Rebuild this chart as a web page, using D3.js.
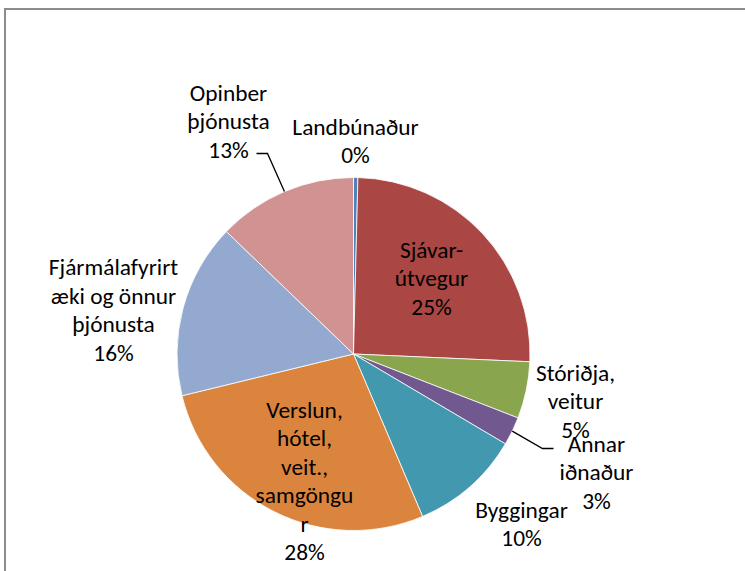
<!DOCTYPE html>
<html>
<head>
<meta charset="utf-8">
<script src="https://cdn.jsdelivr.net/npm/d3@7"></script>
<style>
body { margin: 0; background: #fff; }
text { font-family: Carlito, Lato, "Liberation Sans", sans-serif; font-size: 23.4px; fill: #000; }
</style>
</head>
<body>
<div id="chart"></div>
<script>
// sectors, values (share of total, %)
var categories = ["Landbúnaður", "Sjávarútvegur", "Stóriðja, veitur", "Annar iðnaður", "Byggingar", "Verslun, hótel, veit., samgöngur", "Fjármálafyrirtæki og önnur þjónusta", "Opinber þjónusta"];
var values = [0.4, 25.3, 5.2, 2.6, 10.1, 27.6, 16.0, 12.8];
// label text lines as wrapped in the picture
var labelLines = [
	["Landbúnaður"],
	["Sjávar-", "útvegur"],
	["Stóriðja,", "veitur"],
	["Annar", "iðnaður"],
	["Byggingar"],
	["Verslun,", "hótel,", "veit.,", "samgöngu", "r"],
	["Fjármálafyrirt", "æki og önnur", "þjónusta"],
	["Opinber", "þjónusta"]
];
var colors = ["#4F81BD", "#AA4643", "#89A54E", "#71588F", "#4198AF", "#DB843D", "#93A9CF", "#D19392"];

// layout: label block centres, relative to the pie centre
var labelAt = [[2, -213], [78, -76], [222, 47], [243, 118], [168, 170], [-49, 127], [-240, -44], [-125, -233]];
// which labels have a leader line
var leader = [false, false, false, true, false, false, false, true];

var width = 745, height = 571;
var cx = 353.5, cy = 354, radius = 176.5;
var lineH = 28.5;

var svg = d3.select("#chart")
	.append("svg")
	.attr("width", width)
	.attr("height", height);

// chart frame, runs off the right and bottom edges
svg.append("rect")
	.attr("x", 5)
	.attr("y", 9)
	.attr("width", 800)
	.attr("height", 700)
	.style("fill", "none")
	.style("stroke", "#8c8c8c")
	.style("stroke-width", 2);

var pie = d3.pie().sort(null).value(function(d) { return d; });
var arcs = pie(values);

var arc = d3.arc().innerRadius(0).outerRadius(radius);
var edge = d3.arc().innerRadius(radius).outerRadius(radius);

var g = svg.append("g").attr("transform", "translate(" + cx + "," + cy + ")");

g.selectAll(".slice")
	.data(arcs)
	.enter().append("path")
	.attr("class", "slice")
	.attr("d", arc)
	.style("fill", function(d, i) { return colors[i]; })
	.style("stroke", "#fff")
	.style("stroke-width", 0.8);

// leader lines
arcs.forEach(function(d, i) {
	if (!leader[i]) return;
	var p = edge.centroid(d);
	var a = labelAt[i];
	var n = labelLines[i].length + 1;
	var pts;
	if (a[0] < 0) {
		// label to the upper left: line leaves from right of the last line
		var ly = a[1] + (n - 1) * lineH / 2 + 4;
		pts = [[a[0] + 28, ly], [a[0] + 39, ly], p];
	} else {
		var ly2 = a[1] - (n - 1) * lineH / 2 + 5;
		pts = [[a[0] - 43, ly2], [a[0] - 54, ly2], p];
	}
	g.append("path")
		.attr("d", d3.line()(pts))
		.style("fill", "none")
		.style("stroke", "#000")
		.style("stroke-width", 1.3);
});

// labels
g.selectAll(".label")
	.data(arcs)
	.enter().append("text")
	.attr("class", "label")
	.attr("text-anchor", "middle")
	.each(function(d, i) {
		var lines = labelLines[i].concat([Math.round(values[i]) + "%"]);
		var a = labelAt[i];
		var y0 = a[1] - (lines.length - 1) * lineH / 2 + 8;
		var t = d3.select(this);
		lines.forEach(function(s, k) {
			t.append("tspan")
				.attr("x", a[0])
				.attr("y", y0 + k * lineH)
				.text(s);
		});
	});
</script>
</body>
</html>
